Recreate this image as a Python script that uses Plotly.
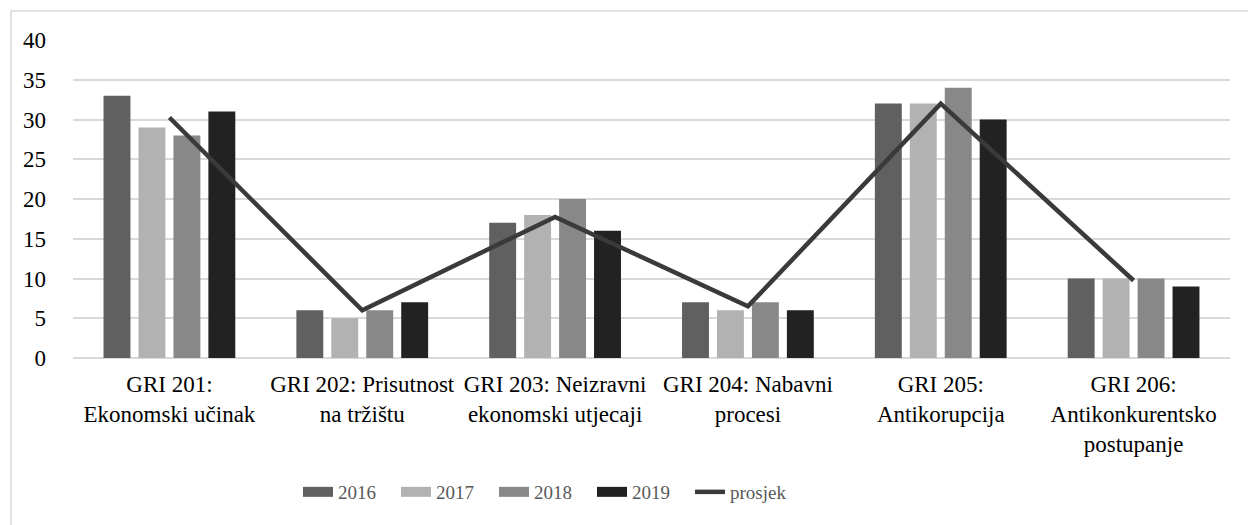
import plotly.graph_objects as go

categories = [
    "GRI 201:<br>Ekonomski učinak",
    "GRI 202: Prisutnost<br>na tržištu",
    "GRI 203: Neizravni<br>ekonomski utjecaji",
    "GRI 204: Nabavni<br>procesi",
    "GRI 205:<br>Antikorupcija",
    "GRI 206:<br>Antikonkurentsko<br>postupanje",
]
v2016 = [33, 6, 17, 7, 32, 10]
v2017 = [29, 5, 18, 6, 32, 10]
v2018 = [28, 6, 20, 7, 34, 10]
v2019 = [31, 7, 16, 6, 30, 9]
prosjek = [30.25, 6, 17.75, 6.5, 32, 9.75]
y_ticks = [0, 5, 10, 15, 20, 25, 30, 35, 40]

W, H = 1248, 525
L, R, T, B = 73, 18, 40, 167
pw, ph = W - L - R, H - T - B

def px(x):
    return (x - L) / pw

def py(y):
    return (H - B - y) / ph

FONT = "Liberation Serif, Times New Roman, serif"

fig = go.Figure()
for name, vals, col in [("2016", v2016, "#606060"), ("2017", v2017, "#b2b2b2"),
                        ("2018", v2018, "#888888"), ("2019", v2019, "#222222")]:
    fig.add_trace(go.Bar(name=name, x=categories, y=vals, marker_color=col,
                         marker_line_width=0, showlegend=False, legendgroup=name))
    # legend proxy (wide rectangular swatch like the original)
    fig.add_trace(go.Scatter(name=name, x=[categories[0]], y=[None], mode="lines",
                             line=dict(color=col, width=12), legendgroup=name,
                             hoverinfo="skip"))
fig.add_trace(go.Scatter(name="prosjek", x=categories, y=prosjek, mode="lines",
                         line=dict(color="#3a3a3a", width=4.5)))

fig.update_layout(
    width=W, height=H,
    margin=dict(l=L, r=R, t=T, b=B, autoexpand=False),
    paper_bgcolor="white", plot_bgcolor="white",
    barmode="group", bargap=0.275, bargroupgap=0.23,
    font=dict(family=FONT, size=23, color="#000000"),
    showlegend=True,
    legend=dict(orientation="h", x=px(298), xanchor="left", y=py(492), yanchor="middle",
                font=dict(family=FONT, size=19, color="#595959"),
                itemwidth=30, entrywidth=53, entrywidthmode="pixels",
                tracegroupgap=0, bgcolor="rgba(0,0,0,0)"),
    xaxis=dict(showgrid=False, showline=False, ticks="", tickangle=0, ticklabelstandoff=10,
               tickfont=dict(family=FONT, size=23, color="#000")),
    yaxis=dict(range=[0, 40], tickvals=y_ticks, showgrid=True, gridcolor="#d9d9d9",
               gridwidth=1.5, zeroline=True, zerolinecolor="#d9d9d9", zerolinewidth=1.5,
               showline=False, ticks="", ticklabelstandoff=26,
               tickfont=dict(family=FONT, size=23, color="#000")),
    shapes=[dict(type="rect", xref="paper", yref="paper",
                 x0=px(11), x1=px(1252), y0=py(11), y1=py(530),
                 line=dict(color="#d9d9d9", width=1.5), fillcolor="rgba(0,0,0,0)",
                 layer="below")],
)

fig.write_html("out.html", config={"displayModeBar": False},
               post_script="document.body.style.margin='0';")
